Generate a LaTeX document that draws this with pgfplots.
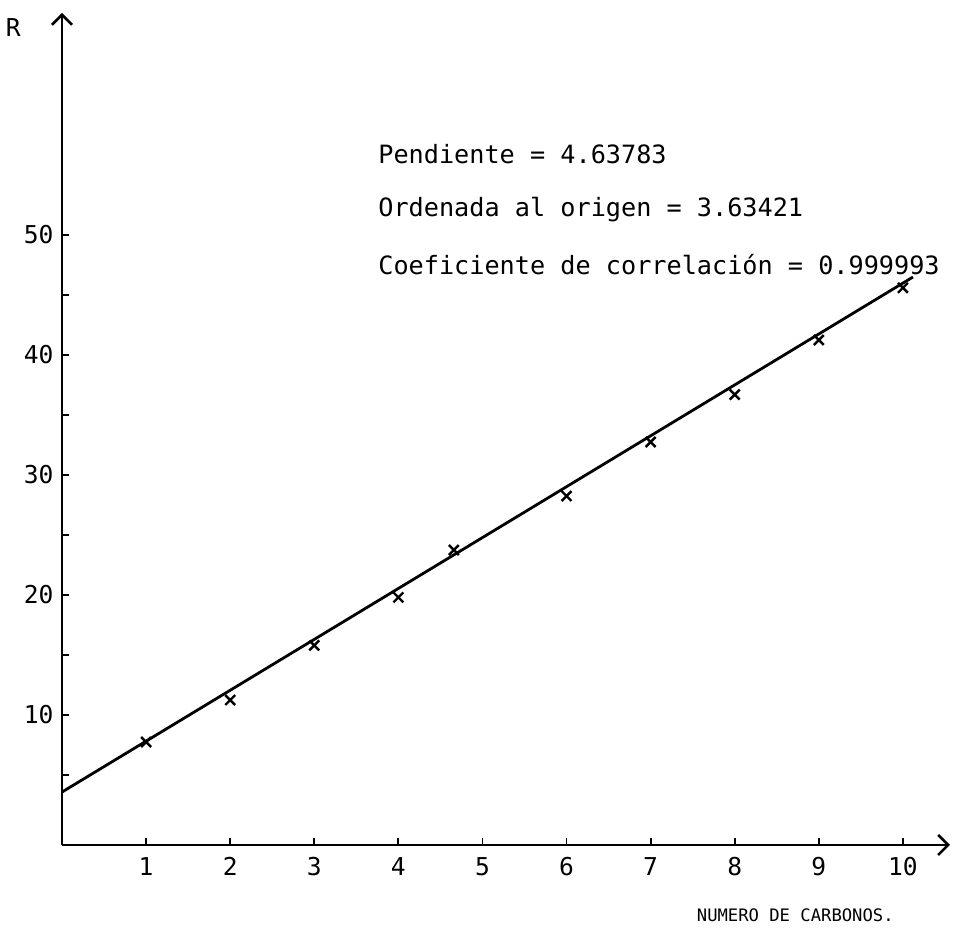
\documentclass[border=0pt]{standalone}
\usepackage{fontspec}
\setmainfont{DejaVu Sans Mono}
\usepackage{pgfplots}
\pgfplotsset{compat=1.18}
\usetikzlibrary{arrows.meta}

\begin{document}
\fontsize{12.3}{14}\selectfont
\begin{tikzpicture}[x=1pt,y=1pt]
\useasboundingbox (-31,-42) rectangle (446.5,422.5);
\begin{axis}[
    at={(0,0)}, anchor=south west,
    scale only axis, width=444pt, height=416pt,
    xmin=0, xmax=10.56, ymin=-0.83, ymax=68.5,
    axis lines=left,
    axis line style={line width=1.4pt, -{Straight Barb[length=5pt,width=10pt,line width=1.3pt]}},
    xtick={1,2,...,10},
    ytick={5,10,...,50},
    yticklabels={,10,,20,,30,,40,,50},
    tick align=inside,
    major tick length=3.5pt,
    tick style={black, line width=0.9pt},
    /pgf/number format/assume math mode=true,
    x tick label style={yshift=-2pt},
    clip=false,
]
% recta de ajuste
\addplot[black, line width=1.4pt, no marks] coordinates {(0,3.58) (10.12,46.5)};
% puntos experimentales
\addplot[only marks, mark=x, mark size=3.5pt, line width=1.2pt] coordinates {
  (1,7.75) (2,11.25) (3,15.8) (4,19.8) (4.66,23.75)
  (6,28.25) (7,32.75) (8,36.7) (9,41.25) (10,45.6)};
\begin{scope}[every node/.style={font=\fontsize{12.6}{14}\selectfont}]
\node[anchor=west] at (axis cs:3.66,56.7) {Pendiente = 4.63783};
\node[anchor=west] at (axis cs:3.66,52.1) {Ordenada al origen = 3.63421};
\node[anchor=west] at (axis cs:3.66,47.5) {Coeficiente de correlación = 0.999993};
\end{scope}
\node at (axis cs:-0.58,67.25) {R};
\node[font=\fontsize{8.6}{10}\selectfont] at (axis cs:8.72,-6.67) {NUMERO DE CARBONOS.};
\end{axis}
\end{tikzpicture}
\end{document}
